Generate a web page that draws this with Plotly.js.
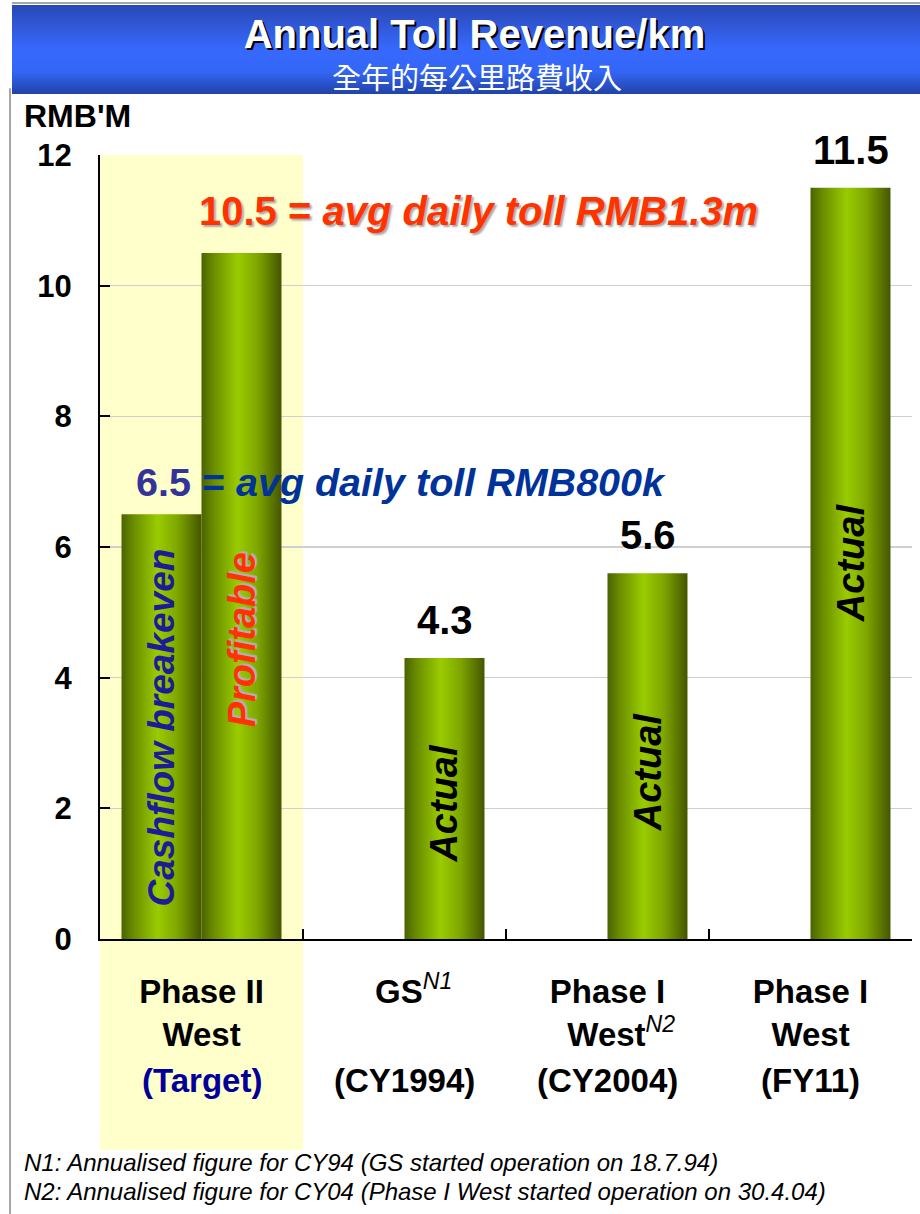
<!DOCTYPE html>
<html><head><meta charset="utf-8">
<script src="https://cdn.plot.ly/plotly-3.0.1.min.js"></script>
<style>html,body{margin:0;padding:0;background:#fff;} #chart{width:920px;height:1214px;}</style>
</head><body><div id="chart"></div>
<script>
// ---- data ----
const categories = ['Phase II West (Target)', 'GS (CY1994)', 'Phase I West (CY2004)', 'Phase I West (FY11)'];
const tickLabels = [
  'Phase II<br>West',
  '\u00a0\u00a0GS<sup><span style="font-weight:normal"><i>N1</i></span></sup>',
  'Phase I<br>\u00a0\u00a0\u00a0West<sup><span style="font-weight:normal"><i>N2</i></span></sup>',
  'Phase I<br>West'
];
const periodLabels = ['(Target)', '(CY1994)', '(CY2004)', '(FY11)'];
const periodColors = ['#000099', '#000000', '#000000', '#000000'];
const breakevenValues = [6.5, null, null, null];
const revenueValues = [10.5, 4.3, 5.6, 11.5];
const valueLabels = ['', '4.3', '5.6', '11.5'];
const barNotes = ['Profitable', 'Actual', 'Actual', 'Actual'];
const barNoteColors = ['#ff3300', '#000000', '#000000', '#000000'];
const barNoteY = [4.58, 2.08, 2.56, 5.76];
const breakevenNote = 'Cashflow breakeven';
const breakevenNoteY = 3.23;
const yTicks = [0, 2, 4, 6, 8, 10, 12];
const titleText = 'Annual Toll Revenue/km';
const subtitleText = '全年的每公里路費收入';
const unitText = "RMB'M";
const profitNote = '10.5 = <i>avg daily toll RMB1.3m</i>';
const breakevenLine = '<span style="color:#333399">6.5</span> = <i>avg daily toll RMB800k</i>';
const footnotes = [
  'N1: Annualised figure for CY94 (GS started operation on 18.7.94)',
  'N2: Annualised figure for CY04 (Phase I West started operation on 30.4.04)'
];

// ---- chart ----
const FONT = 'Liberation Sans, Arial, sans-serif';
const data = [
  {type: 'bar', x: categories, y: breakevenValues, marker: {color: '#8fb800', line: {width: 0}}, hoverinfo: 'skip'},
  {type: 'bar', x: categories, y: revenueValues, marker: {color: '#8fb800', line: {width: 0}}, hoverinfo: 'skip'}
];

const annotations = [
  {text: subtitleText, xref: 'paper', yref: 'paper', x: 0.4649, y: 1.1008, xanchor: 'center', yanchor: 'middle', showarrow: false,
   font: {family: 'Noto Sans CJK TC', size: 29, color: '#ffffff'}},
  {text: unitText, xref: 'paper', yref: 'paper', x: -0.096, y: 1.0497, xanchor: 'left', yanchor: 'middle', showarrow: false,
   font: {size: 32, color: '#000', weight: 'bold'}},
  {text: profitNote, xref: 'paper', yref: 'paper', x: 0.1195, y: 0.9286, xanchor: 'left', yanchor: 'middle', showarrow: false,
   font: {size: 40, color: '#ff3300', weight: 'bold', shadow: '2px 2px 2px #a8a8a8'}},
  {text: breakevenLine, xref: 'paper', yref: 'paper', x: 0.0415, y: 0.5829, xanchor: 'left', yanchor: 'middle', showarrow: false,
   font: {size: 39.5, color: '#003399', weight: 'bold'}},
  {text: breakevenNote, xref: 'x', yref: 'y', x: categories[0], y: breakevenNoteY, xshift: -40, textangle: -90,
   xanchor: 'center', yanchor: 'middle', showarrow: false, font: {size: 37, color: '#1c1c96', weight: 'bold', style: 'italic'}}
];
categories.forEach((c, i) => {
  const f = {size: 38, color: barNoteColors[i], weight: 'bold', style: 'italic'};
  if (i === 0) f.shadow = '2px 2px 1px #b0b0b0';
  annotations.push({text: barNotes[i], xref: 'x', yref: 'y', x: c, y: barNoteY[i], xshift: 40, textangle: -90,
    xanchor: 'center', yanchor: 'middle', showarrow: false, font: f});
  if (valueLabels[i]) {
    annotations.push({text: valueLabels[i], xref: 'x', yref: 'y', x: c, y: revenueValues[i], xshift: 40, yshift: 14,
      xanchor: 'center', yanchor: 'bottom', showarrow: false, font: {size: 40, color: '#000', weight: 'bold'}});
  }
  annotations.push({text: periodLabels[i], xref: 'x', yref: 'paper', x: c, y: -0.1811,
    xanchor: 'center', yanchor: 'middle', showarrow: false, font: {size: 33, color: periodColors[i], weight: 'bold'}});
});
footnotes.forEach((t, i) => {
  annotations.push({text: t, xref: 'paper', yref: 'paper', x: -0.096, y: [-0.2857, -0.3227][i],
    xanchor: 'left', yanchor: 'middle', showarrow: false, font: {size: 24, color: '#000', style: 'italic'}});
});

const layout = {
  width: 920, height: 1214,
  margin: {l: 100, r: 8, t: 155, b: 275},
  paper_bgcolor: '#ffffff', plot_bgcolor: 'rgba(0,0,0,0)',
  barmode: 'group', bargap: 0.212, bargroupgap: 0,
  showlegend: false,
  font: {family: FONT, color: '#000'},
  title: {text: titleText, font: {size: 40, color: '#ffffff', weight: 'bold', shadow: '2px 2px 0px #000'},
    xref: 'container', x: 0.5157, xanchor: 'center', yref: 'container', y: 0.972, yanchor: 'middle'},
  xaxis: {type: 'category', range: [-0.5, 3.5], tickmode: 'array', tickvals: categories, ticktext: tickLabels,
    tickson: 'boundaries', ticks: 'inside', ticklen: 10, tickwidth: 2, tickcolor: '#000',
    showline: true, linecolor: '#000', linewidth: 2, showgrid: false, zeroline: false,
    tickfont: {size: 33, color: '#000', weight: 'bold'}, ticklabelstandoff: 22, fixedrange: true},
  yaxis: {range: [0, 12], tickmode: 'array', tickvals: yTicks, ticks: 'inside', ticklen: 10, tickwidth: 2, tickcolor: '#000',
    showline: true, linecolor: '#000', linewidth: 2, showgrid: true, gridcolor: '#cfcfcf', gridwidth: 1.5, zeroline: false,
    tickfont: {size: 31, color: '#000', weight: 'bold'}, ticklabelstandoff: 20, fixedrange: true},
  shapes: [
    {type: 'rect', xref: 'paper', yref: 'paper', x0: -0.10837, x1: 1.0099, y0: 1.0778, y1: 1.1913, fillcolor: '#3366ff', line: {width: 0}, layer: 'below'},
    {type: 'line', xref: 'paper', yref: 'paper', x0: -0.10837, x1: 1.0099, y0: 1.1939, y1: 1.1939, line: {color: '#a6a6a6', width: 2}, layer: 'below'},
    {type: 'line', xref: 'paper', yref: 'paper', x0: -0.1108, x1: -0.1108, y0: 1.085, y1: -0.3508, line: {color: '#a6a6a6', width: 2}, layer: 'below'},
    {type: 'rect', xref: 'x', yref: 'paper', x0: -0.5, x1: 0.5, y0: -0.2691, y1: 1, fillcolor: '#ffffcc', line: {width: 0}, layer: 'below'}
  ],
  annotations: annotations
};

Plotly.newPlot('chart', data, layout, {staticPlot: true, displayModeBar: false}).then(gd => {
  const svg = gd.querySelector('.main-svg');
  let defs = svg.querySelector('defs');
  const NS = 'http://www.w3.org/2000/svg';
  if (!defs) { defs = document.createElementNS(NS, 'defs'); svg.insertBefore(defs, svg.firstChild); }
  function grad(id, stops, vertical) {
    const g = document.createElementNS(NS, 'linearGradient');
    g.setAttribute('id', id);
    g.setAttribute('x1', '0'); g.setAttribute('y1', '0');
    g.setAttribute('x2', vertical ? '0' : '1'); g.setAttribute('y2', vertical ? '1' : '0');
    stops.forEach(s => {
      const st = document.createElementNS(NS, 'stop');
      st.setAttribute('offset', s[0]); st.setAttribute('stop-color', s[1]);
      g.appendChild(st);
    });
    defs.appendChild(g);
  }
  grad('barGrad', [[0, '#4a6300'], [0.15, '#6a8c00'], [0.45, '#99cc00'], [0.7, '#7fa600'], [1, '#445600']]);
  grad('bannerGrad', [[0, '#2a48b4'], [0.5, '#3769ff'], [0.75, '#3366f5'], [1, '#2143a8']], true);
  gd.querySelectorAll('.barlayer .point path').forEach(p => { p.style.fill = 'url(#barGrad)'; });
  gd.querySelectorAll('.shapelayer path').forEach(p => {
    if ((p.style.fill || '').replace(/\s/g, '') === 'rgb(51,102,255)') p.style.fill = 'url(#bannerGrad)';
  });
});
</script>
</body></html>
